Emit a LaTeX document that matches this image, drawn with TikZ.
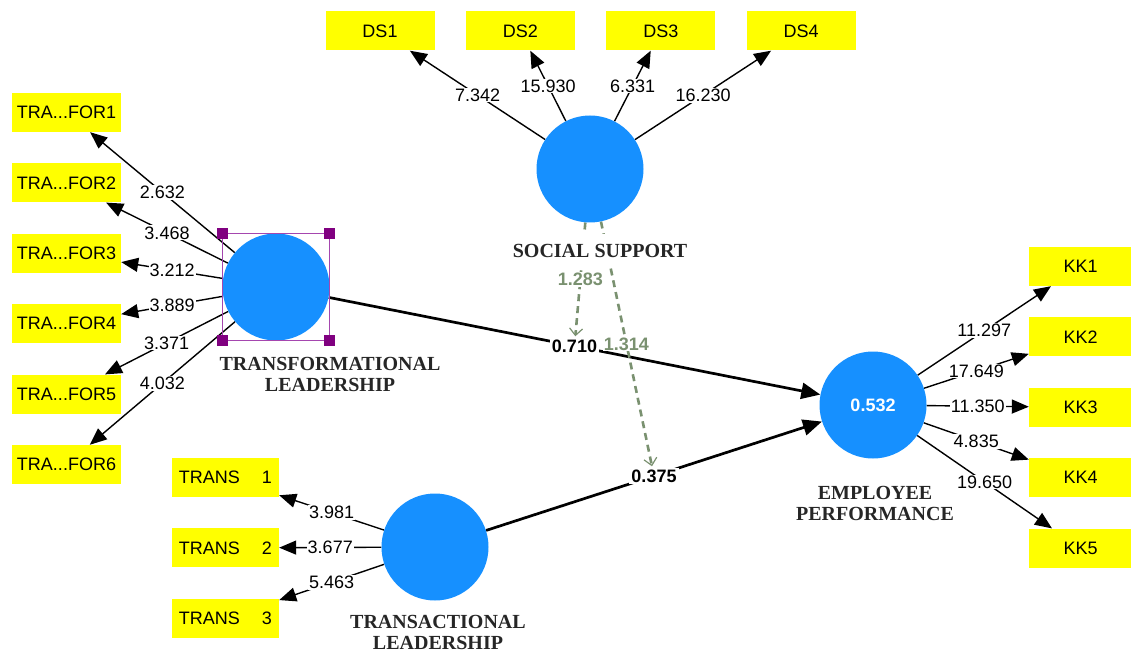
\documentclass[tikz,border=0pt]{standalone}
\usepackage{fontspec}
\setmainfont{Liberation Sans}
\newfontfamily\lvfont{Liberation Serif}
\usepackage{tikz}
\usetikzlibrary{positioning, arrows.meta}
\usepackage{xcolor}
\pgfdeclarelayer{bg}
\pgfsetlayers{bg,main}

\definecolor{plsblue}{RGB}{22,144,255}
\definecolor{plsyellow}{RGB}{255,255,0}
\definecolor{modgreen}{RGB}{122,145,112}
\definecolor{selpurple}{RGB}{165,70,175}
\definecolor{handlepurple}{RGB}{128,0,128}

\tikzset{
  indbox/.style={rectangle, fill=plsyellow, minimum width=109pt, minimum height=39pt, inner sep=0pt, font=\fontsize{18}{20}\selectfont},
  latent/.style={circle, fill=plsblue, minimum size=107pt, inner sep=0pt},
  lvname/.style={align=center, text=black!85, font=\lvfont\bfseries\fontsize{20}{21}\selectfont},
  loading/.style={line width=1.4pt, -{Triangle[length=17pt,width=14pt]}},
  loadval/.style={fill=white, inner sep=1pt, font=\fontsize{18}{20}\selectfont},
  structpath/.style={line width=2.7pt, -{Triangle[length=19pt,width=16pt]}},
  pathval/.style={fill=white, inner sep=2pt, font=\bfseries\fontsize{18}{20}\selectfont},
  moderate/.style={modgreen, dash pattern=on 7pt off 5pt, line width=2.6pt, -{Straight Barb[length=7pt,width=13pt,line width=1.2pt]}},
  modval/.style={fill=white, inner sep=1pt, text=modgreen, font=\bfseries\fontsize{18}{20}\selectfont},
  selhandle/.style={rectangle, fill=handlepurple, minimum size=11pt, inner sep=0pt}
}

\begin{document}
\begin{tikzpicture}[x=1pt, y=-1pt]
\useasboundingbox (0,0) rectangle (1131,652);

%%% LATENT VARIABLES
\node [latent] (ss) at (590,169) {};
\node [latent] (tl) at (276,287) {};
\node [latent] (ta) at (435,547) {};
\node [latent, text=white, font=\bfseries\fontsize{18}{20}\selectfont] (ep) at (873,405) {0.532};

\node [lvname, fill=white, inner xsep=4pt, inner ysep=10pt] (ss-name) at (600,251) {SOCIAL SUPPORT};
\node [lvname] (tl-name) at (330,374) {TRANSFORMATIONAL\\LEADERSHIP};
\node [lvname] (ta-name) at (438,632) {TRANSACTIONAL\\LEADERSHIP};
\node [lvname] (ep-name) at (875,503) {EMPLOYEE\\PERFORMANCE};

%%% SOCIAL SUPPORT INDICATORS
\node [indbox] (ds1) at (380,31) {DS1};
\node [indbox, right=31pt of ds1] (ds2) {DS2};
\node [indbox, right=31pt of ds2] (ds3) {DS3};
\node [indbox, right=31pt of ds3] (ds4) {DS4};

%%% TRANSFORMATIONAL INDICATORS
\node [indbox] (for1) at (66.5,112.5) {TRA...FOR1};
\node [indbox, below=31pt of for1] (for2) {TRA...FOR2};
\node [indbox, below=31pt of for2] (for3) {TRA...FOR3};
\node [indbox, below=31pt of for3] (for4) {TRA...FOR4};
\node [indbox, below=31pt of for4] (for5) {TRA...FOR5};
\node [indbox, below=31pt of for5] (for6) {TRA...FOR6};

%%% TRANSACTIONAL INDICATORS
\node [indbox, minimum width=107pt] (trans1) at (225.5,477.5) {TRANS\hspace{22pt}1};
\node [indbox, minimum width=107pt, below=31pt of trans1] (trans2) {TRANS\hspace{22pt}2};
\node [indbox, minimum width=107pt, below=31pt of trans2] (trans3) {TRANS\hspace{22pt}3};

%%% PERFORMANCE INDICATORS
\node [indbox, minimum width=103pt] (kk1) at (1080.5,266.5) {KK1};
\node [indbox, minimum width=103pt, below=31pt of kk1] (kk2) {KK2};
\node [indbox, minimum width=103pt, below=31pt of kk2] (kk3) {KK3};
\node [indbox, minimum width=103pt, below=31pt of kk3] (kk4) {KK4};
\node [indbox, minimum width=103pt, below=31pt of kk4] (kk5) {KK5};

%%% selection frame
\coordinate (sel-nw) at (tl.west |- tl.north);
\coordinate (sel-ne) at (tl.east |- tl.north);
\coordinate (sel-sw) at (tl.west |- tl.south);
\coordinate (sel-se) at (tl.east |- tl.south);
\draw [selpurple, line width=1.1pt] (sel-nw) rectangle (sel-se);
\foreach \c in {nw,ne,sw,se}
  \node [selhandle] (handle-\c) at (sel-\c) {};

%%% connections, arrows
\begin{pgfonlayer}{bg}
\draw [loading] (ss) -- node [loadval] (ds1-val) {7.342} (ds1);
\draw [loading] (ss) -- node [loadval] (ds2-val) {15.930} (ds2);
\draw [loading] (ss) -- node [loadval] (ds3-val) {6.331} (ds3);
\draw [loading] (ss) -- node [loadval] (ds4-val) {16.230} (ds4);

\draw [loading] (tl) -- node [loadval] (for1-val) {2.632} (for1);
\draw [loading] (tl) -- node [loadval] (for2-val) {3.468} (for2);
\draw [loading] (tl) -- node [loadval] (for3-val) {3.212} (for3);
\draw [loading] (tl) -- node [loadval] (for4-val) {3.889} (for4);
\draw [loading] (tl) -- node [loadval] (for5-val) {3.371} (for5);
\draw [loading] (tl) -- node [loadval] (for6-val) {4.032} (for6);

\draw [loading] (ta) -- node [loadval] (trans1-val) {3.981} (trans1);
\draw [loading] (ta) -- node [loadval] (trans2-val) {3.677} (trans2);
\draw [loading] (ta) -- node [loadval] (trans3-val) {5.463} (trans3);

\draw [loading] (ep) -- node [loadval] (kk1-val) {11.297} (kk1);
\draw [loading] (ep) -- node [loadval] (kk2-val) {17.649} (kk2);
\draw [loading] (ep) -- node [loadval] (kk3-val) {11.350} (kk3);
\draw [loading] (ep) -- node [loadval] (kk4-val) {4.835} (kk4);
\draw [loading] (ep) -- node [loadval] (kk5-val) {19.650} (kk5);

\draw [structpath] (tl) -- node [pathval] (tl-ep) {0.710} (ep);
\draw [structpath] (ta) -- node [pathval] (ta-ep) {0.375} (ep);

\draw [moderate] (ss) -- node [modval] (ss-tl) {1.283} (tl-ep);
\draw [moderate] (ss) -- node [modval] (ss-ta) {1.314} (ta-ep);
\end{pgfonlayer}

\end{tikzpicture}
\end{document}
